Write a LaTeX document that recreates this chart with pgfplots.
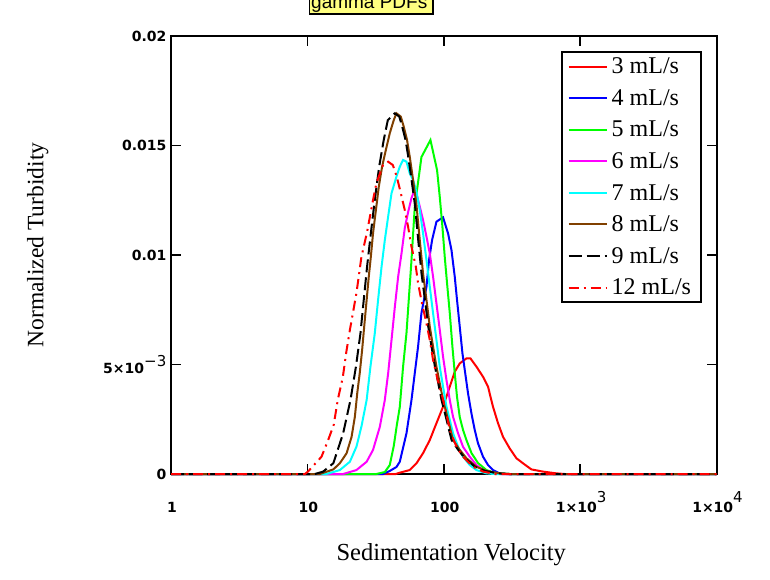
\documentclass[border=0pt]{standalone}
\usepackage{pgfplots}
\pgfplotsset{compat=1.18}
\usepackage{fontspec}
\setmainfont{Liberation Serif}
\newfontfamily\arial{Liberation Sans}
\newfontfamily\tickfam{DejaVu Sans}
\definecolor{mcbrown}{RGB}{128,64,0}
\definecolor{mcyellow}{RGB}{255,255,128}
\definecolor{mcgreen}{RGB}{0,255,0}
\definecolor{mcred}{RGB}{255,0,0}
\definecolor{mcblue}{RGB}{0,0,255}
\definecolor{mcmag}{RGB}{255,0,255}
\definecolor{mccyan}{RGB}{0,255,255}
\newcommand{\xsup}[1]{\raisebox{10pt}{\mdseries\fontsize{15}{15}\selectfont #1}}
\newcommand{\ysup}[1]{\raisebox{7.5pt}{\mdseries\fontsize{15}{15}\selectfont #1}}
\begin{document}
\begin{tikzpicture}
\begin{axis}[
  at={(171pt,105pt)}, anchor=south west,
  scale only axis, width=545.5pt, height=438pt,
  xmode=log, xmin=1, xmax=10000, ymin=0, ymax=0.02,
  xtick={1,10,100,1000,10000},
  xticklabels={1,10,100,1×10\xsup{3},1×10\xsup{4}},
  xminorticks=false,
  ytick={0,0.005,0.01,0.015,0.02},
  yticklabels={0,5×10\ysup{−3},0.01,0.015,0.02},
  scaled y ticks=false,
  tick align=inside, major tick length=10pt,
  xtick pos=both, ytick pos=both, ticklabel pos=lower,
  tick style={black, line width=1.5pt},
  axis line style={line width=2pt},
  xticklabel style={font=\tickfam\bfseries\fontsize{14}{15}\selectfont, anchor=base, inner sep=0pt, yshift=-38pt, xshift=1pt},
  yticklabel style={font=\tickfam\bfseries\fontsize{14}{15}\selectfont, anchor=east, inner sep=0pt, xshift=-4.5pt},
  clip=false,
  every axis plot/.append style={line width=2pt},
  legend cell align=left,
  legend image code/.code={\draw[#1,line width=2pt] (0pt,0pt) -- (38pt,0pt);},
  legend style={at={(1,1)}, anchor=north east, xshift=-14.5pt, yshift=-15pt,
    draw=black, line width=2pt, inner xsep=6pt, inner ysep=6pt, row sep=14.2pt,
    font=\fontsize{24}{24}\selectfont,
    nodes={inner xsep=4pt, inner ysep=0pt}},
]
\addplot[color=mcred] coordinates {(1,0) (44.5,0) (47.6,0.00006) (56.3,0.00018) (63.1,0.00049) (70.5,0.00095) (79.0,0.00155) (88.4,0.00232) (98.8,0.00307) (110.7,0.00399) (120.4,0.00467) (131.0,0.00505) (146.7,0.00528) (156.9,0.00528) (173.7,0.0049) (194.1,0.00444) (211.1,0.00399) (229.7,0.00307) (250.0,0.00232) (271.9,0.0017) (304.4,0.00117) (340.9,0.00072) (381.1,0.00049) (439.1,0.00021) (534,0.00011) (669,0.00003) (770,0) (10000,0)};
\addlegendentry{3 mL/s}
\addplot[color=mcblue] coordinates {(1,0) (35.9,0) (40.2,0.00014) (45.0,0.00032) (47.6,0.00056) (53.3,0.00186) (58.0,0.00338) (61.3,0.0046) (64.8,0.00581) (68.6,0.00734) (74.7,0.00855) (78.0,0.00977) (82.1,0.01068) (88.4,0.01152) (98.8,0.01172) (107.5,0.01099) (113.9,0.01023) (120.4,0.00901) (125.1,0.00795) (131.0,0.00673) (137.1,0.00551) (144.9,0.00444) (150.7,0.00368) (159.6,0.00277) (168.7,0.00201) (178.4,0.0014) (194.1,0.00079) (211.1,0.00041) (229.7,0.00018) (257.2,0.00003) (288,0) (10000,0)};
\addlegendentry{4 mL/s}
\addplot[color=mcgreen] coordinates {(1,0) (32.1,0) (36.97,0.00009) (40.2,0.00041) (43.0,0.00128) (45.3,0.00224) (47.6,0.00306) (50.3,0.00489) (53.3,0.00644) (58.0,0.00977) (61.3,0.01219) (68.6,0.01447) (79.9,0.01525) (89.3,0.01388) (93.5,0.01265) (97.8,0.01128) (101.7,0.00991) (105.7,0.00872) (110.7,0.00735) (115.8,0.0058) (120.4,0.00461) (125.1,0.00352) (131.0,0.0026) (138.5,0.00201) (146.7,0.00155) (159.6,0.00096) (178.4,0.0005) (205.5,0.00018) (243.3,0.00003) (304.4,0) (10000,0)};
\addlegendentry{5 mL/s}
\addplot[color=mcmag] coordinates {(1,0) (18.3,0) (22.9,0.00018) (27.2,0.00056) (30.3,0.0011) (34.0,0.00216) (36.97,0.00338) (39.1,0.00459) (41.4,0.00612) (43.8,0.00764) (46.3,0.00901) (49.0,0.01007) (51.8,0.01123) (54.8,0.01196) (58.0,0.0126) (60.3,0.01288) (63.1,0.01279) (66.7,0.01221) (70.5,0.0116) (74.7,0.01084) (79.0,0.01007) (83.5,0.00901) (88.4,0.00779) (93.5,0.00658) (98.8,0.00536) (104.7,0.00429) (110.7,0.00338) (117.0,0.00261) (127.3,0.00186) (138.5,0.00124) (155.1,0.00079) (173.7,0.00041) (194.1,0.00018) (229.7,0.00006) (257.2,0) (10000,0)};
\addlegendentry{6 mL/s}
\addplot[color=mccyan] coordinates {(1,0) (13.8,0) (17.3,0.00018) (20.5,0.00056) (22.9,0.00125) (24.9,0.00216) (27.2,0.00338) (29.0,0.0049) (31.2,0.00642) (33.0,0.00795) (35.0,0.00947) (36.97,0.01068) (39.1,0.01175) (41.4,0.01282) (45.0,0.01358) (47.6,0.01403) (50.3,0.01434) (53.3,0.01426) (56.3,0.01373) (59.6,0.01342) (63.1,0.01288) (66.7,0.01205) (70.5,0.01099) (74.7,0.00977) (79.0,0.00855) (83.5,0.00734) (88.4,0.00612) (93.5,0.0049) (98.8,0.00399) (104.7,0.00307) (110.7,0.00247) (117.0,0.00186) (127.3,0.00125) (138.5,0.00079) (155.1,0.00041) (173.7,0.00018) (205.5,0.00003) (236.4,0) (10000,0)};
\addlegendentry{7 mL/s}
\addplot[color=mcbrown] coordinates {(1,0) (12.35,0) (15.5,0.00021) (17.3,0.00049) (19.4,0.00095) (21.1,0.0017) (22.3,0.00262) (23.2,0.00368) (24.2,0.0046) (25.2,0.00566) (26.1,0.00673) (27.2,0.00795) (28.2,0.00901) (29.2,0.00992) (30.3,0.01099) (31.8,0.01205) (33.4,0.01312) (35.3,0.01403) (37.6,0.01479) (40.2,0.01556) (43.0,0.01616) (45.0,0.01647) (48.4,0.01632) (50.9,0.01586) (53.8,0.01525) (56.3,0.01449) (59.6,0.01342) (63.1,0.01228) (66.7,0.01068) (70.5,0.00916) (74.7,0.00795) (79.0,0.00673) (83.5,0.00581) (88.4,0.0049) (93.5,0.00414) (98.8,0.00338) (104.7,0.00277) (110.7,0.00216) (117.0,0.00155) (131.0,0.0011) (146.7,0.00072) (173.7,0.00033) (205.5,0.00014) (257.2,0.00003) (304,0) (10000,0)};
\addlegendentry{8 mL/s}
\addplot[color=black, dash pattern=on 13pt off 5pt] coordinates {(1,0) (11.35,0) (13.05,0.00011) (15.5,0.00049) (18.3,0.00186) (20.7,0.00338) (22.7,0.0049) (24.5,0.00642) (25.9,0.00795) (27.4,0.00947) (29.2,0.01099) (31.2,0.01251) (33.6,0.01403) (36.3,0.01525) (38.9,0.01616) (43.8,0.01647) (47.2,0.01632) (49.6,0.01586) (52.5,0.01525) (54.9,0.01449) (58.1,0.01342) (61.5,0.01228) (65.0,0.01068) (68.7,0.00916) (72.8,0.00795) (77.0,0.00673) (81.4,0.00581) (86.2,0.0049) (91.2,0.00414) (96.3,0.00338) (102.1,0.00277) (107.9,0.00216) (114.1,0.00155) (127.7,0.0011) (143.0,0.00072) (169.4,0.00033) (200.4,0.00014) (250.8,0.00003) (300,0) (10000,0)};
\addlegendentry{9 mL/s}
\addplot[color=mcred, dash pattern=on 10pt off 5pt on 2pt off 5pt] coordinates {(1,0) (9.6,0) (10.1,0.00011) (12.7,0.00079) (14.2,0.00155) (15.6,0.00224) (16.7,0.00338) (18.2,0.00443) (19.3,0.00557) (20.5,0.00658) (22.9,0.00826) (24.9,0.00991) (27.4,0.01105) (30.0,0.01237) (32.1,0.01329) (35.9,0.01411) (39.1,0.01426) (42.3,0.01411) (45.3,0.01356) (48.4,0.01283) (51.8,0.01205) (54.8,0.01128) (58.0,0.01038) (62.4,0.00947) (64.8,0.00871) (69.6,0.00772) (73.8,0.00703) (79.0,0.00612) (83.5,0.00521) (89.6,0.00438) (96.2,0.00368) (103.1,0.00292) (110.7,0.00201) (123.9,0.00125) (138.5,0.00079) (163.9,0.00033) (194.1,0.00011) (236.4,0) (10000,0)};
\addlegendentry{12 mL/s}
\end{axis}
% title box (cut at the top edge)
\fill[mcyellow] (309pt,565pt) rectangle (433pt,600pt);
\fill[black] (308.7pt,565pt) rectangle (310pt,600pt);
\fill[black] (308.7pt,564pt) rectangle (434pt,566.3pt);
\fill[black] (431.7pt,564pt) rectangle (434pt,600pt);
\node[anchor=base west, inner sep=0pt, font=\arial\fontsize{19}{19}\selectfont] at (311pt,570pt) {gamma PDFs};
\node[rotate=90, anchor=base, inner sep=0pt, font=\fontsize{23.5}{24}\selectfont] at (43.3pt,334pt) {Normalized Turbidity};
\node[anchor=base, inner sep=0pt, font=\fontsize{24.5}{25}\selectfont] at (451.2pt,18.3pt) {Sedimentation Velocity};
\pgfresetboundingbox
\path[use as bounding box] (0pt,0pt) rectangle (770pt,579pt);
\end{tikzpicture}
\end{document}
